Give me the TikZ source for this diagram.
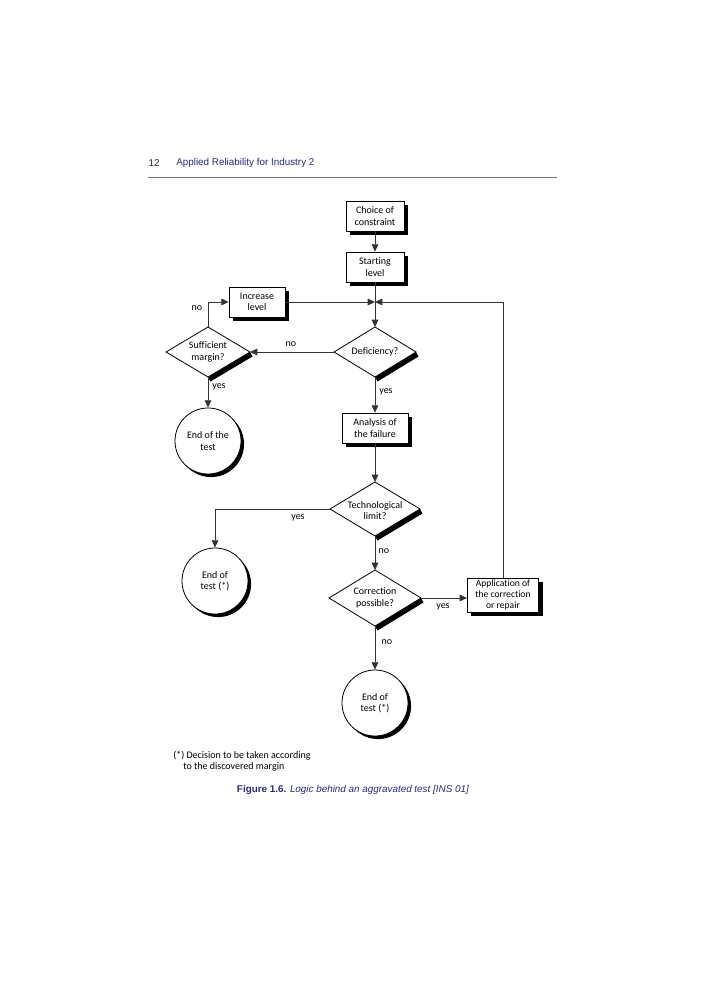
\documentclass[tikz,border=0pt]{standalone}
\usepackage{fontspec}
\setmainfont{Carlito}[Ligatures={NoCommon}]
\newfontfamily\arialf{Liberation Sans}
\usetikzlibrary{shapes.geometric,arrows.meta,shadows,backgrounds,calc}
\definecolor{navy}{RGB}{40,40,125}
\begin{document}
\begin{tikzpicture}[x=0.75pt,y=-0.75pt,
  every node/.style={font=\fontsize{7.5}{8.6}\selectfont},
  box/.style={draw=black,line width=0.6pt,fill=white,align=center,inner sep=0pt,minimum height=22.5pt,
    drop shadow={opacity=1,fill=black,shadow xshift=3pt,shadow yshift=-3pt}},
  dia/.style={diamond,draw=black,line width=0.6pt,fill=white,inner sep=0pt,outer sep=0pt},
  endc/.style={circle,draw=black,line width=0.6pt,fill=white,minimum size=49.5pt,inner sep=0pt,align=center,
    drop shadow={opacity=1,fill=black,shadow xshift=2.3pt,shadow yshift=-2.3pt}},
  conn/.style={line width=0.6pt,draw=black!80},
  arr/.style={conn,-{Triangle[length=5.5pt,width=5pt]}},
  lbl/.style={inner sep=0pt},
  hdr/.style={font=\arialf\fontsize{7.4}{9}\selectfont,inner sep=0pt},
]
\useasboundingbox (0,0) rectangle (707,1000);

% header
\node[hdr,text=black!85] (pg) at (154,163) {12};
\node[hdr,text=navy,anchor=west] (ttl) at (176,163) {Applied Reliability for Industry 2};
\draw[black!55,line width=0.7pt] (148,177) -- (557,177);

% nodes
\node[box,minimum width=43.5pt] (choice) at (375,216) {Choice of\\constraint};
\node[box,minimum width=43.5pt] (start) at (375,267) {Starting\\level};
\coordinate (J) at (375,302);
\node[box,minimum width=42pt] (inc) at (257,302) {Increase\\level};
\node[dia,minimum width=61.5pt,minimum height=37.5pt,label={[align=center]center:Deficiency?}] (def) at (375,352) {};
\node[dia,minimum width=63pt,minimum height=37.5pt,label={[align=center]center:Sufficient\\margin?}] (suf) at (208,352) {};
\node[endc] (end1) at (208,441) {End of the\\test};
\node[box,minimum width=49.5pt] (ana) at (375,428) {Analysis of\\the failure};
\node[dia,minimum width=67.5pt,minimum height=40.5pt,label={[align=center,yshift=-1pt]center:Technological\\limit?}] (tech) at (375,509) {};
\node[endc] (end2) at (215,581) {End of\\test (*)};
\node[dia,minimum width=69pt,minimum height=42pt,label={[align=center]center:Correction\\possible?}] (corr) at (375,598) {};
\node[box,minimum width=53.5pt,minimum height=25.5pt,font=\fontsize{7.2}{8.4}\selectfont] (app) at (503,595) {Application of\\the correction\\or repair};
\node[endc] (end3) at (375,703) {End of\\test (*)};

% diamond shadows
\begin{scope}[on background layer]
\foreach \n in {def,suf,tech,corr}
  \fill[black] (\n.east) -- ++(2.5,4.5) -- ($(\n.south)+(2.5,4.5)$) -- (\n.south) -- cycle;
\end{scope}

% connectors
\draw[arr] (choice) -- (start);
\draw[conn] (start) -- (J);
\draw[arr] (inc) -- (J);
\draw[arr] (app.north) |- (J);
\draw[arr] (J) -- (def);
\draw[arr] (def) -- (suf);
\draw[arr] (suf.north) |- (inc.west);
\draw[arr] (suf) -- (end1);
\draw[arr] (def) -- (ana);
\draw[arr] (ana) -- (tech);
\draw[arr] (tech.west) -| (end2.north);
\draw[arr] (tech) -- (corr);
\draw[arr] (corr.east) -- (corr.east -| app.west);
\draw[arr] (corr) -- (end3);

% connector labels
\node[lbl] (l1) at (291,344) {no};
\node[lbl] (l2) at (197,308) {no};
\node[lbl] (l3) at (219,387) {yes};
\node[lbl] (l4) at (386,392) {yes};
\node[lbl] (l5) at (298,518) {yes};
\node[lbl] (l6) at (384,551) {no};
\node[lbl] (l7) at (443,607) {yes};
\node[lbl] (l8) at (387,642) {no};

% footnote
\node[lbl,anchor=west] (fn1) at (173,756) {(*) Decision to be taken according};
\node[lbl,anchor=west] (fn2) at (183,767) {to the discovered margin};

% caption
\node[hdr,text=navy] (cap) at (353,790) {\textbf{Figure 1.6.} \textit{Logic behind an aggravated test [INS 01]}};
\end{tikzpicture}
\end{document}
